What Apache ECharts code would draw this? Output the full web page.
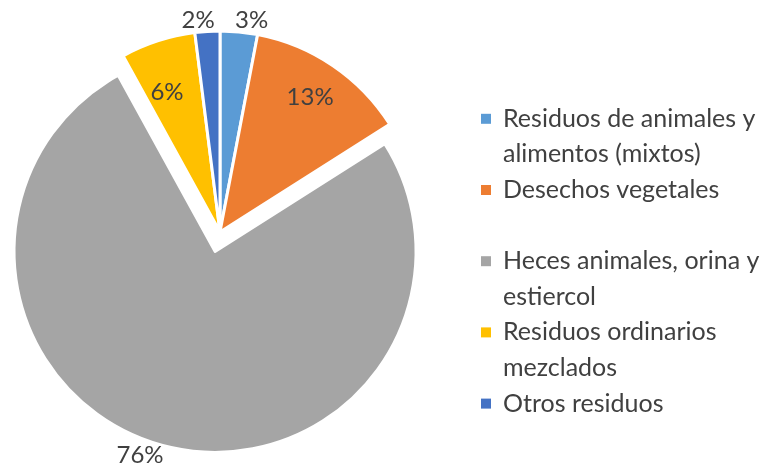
<!DOCTYPE html>
<html>
<head>
<meta charset="utf-8">
<script src="https://cdn.jsdelivr.net/npm/echarts@6/dist/echarts.min.js"></script>
<style>
  html, body { margin: 0; padding: 0; background: #fff; }
  #chart { width: 770px; height: 472px; }
</style>
</head>
<body>
<div id="chart"></div>
<script>
const categories = [
  'Residuos de animales y alimentos (mixtos)',
  'Desechos vegetales',
  'Heces animales, orina y estiercol',
  'Residuos ordinarios mezclados',
  'Otros residuos'
]
const values = [3, 13, 76, 6, 2]
// how the legend text wraps (the second item has an empty line under it)
const legendLines = [
  ['Residuos de animales y', 'alimentos (mixtos)'],
  ['Desechos vegetales', ' '],
  ['Heces animales, orina y', 'estiercol'],
  ['Residuos ordinarios', 'mezclados'],
  ['Otros residuos']
]
const colors = ['#5B9BD5', '#ED7D31', '#A5A5A5', '#FFC000', '#4472C4']
const exploded = [false, false, true, false, false]

// label line lengths, used only to push the percent labels where Excel put them
const labelLen = [12, -38, 10, -54, 11]
const labelLen2 = [-10, -30, -6, -14, -13]

const font = 'Lato, "Open Sans", sans-serif'
const textColor = '#404040'
const lh = 35.6

const chart = echarts.init(document.getElementById('chart'), null, { renderer: 'canvas' })

const rich = {
  t: { fontSize: 25, fontFamily: font, color: textColor, lineHeight: lh, padding: [0, 0, 0, 12] },
  u: { fontSize: 25, fontFamily: font, color: textColor, lineHeight: lh, padding: [0, 0, 0, 22] }
}
colors.forEach((c, i) => {
  rich['s' + i] = { width: 10, height: 10, backgroundColor: c, lineHeight: lh }
})

const option = {
  animation: false,
  backgroundColor: '#fff',
  legend: {
    orient: 'vertical',
    left: 475,
    top: 101,
    padding: 0,
    itemGap: 0,
    itemWidth: 0,
    itemHeight: 0,
    data: categories,
    formatter: (name) => {
      const i = categories.indexOf(name)
      const lines = legendLines[i]
      let s = '{s' + i + '|}{t|' + lines[0] + '}'
      for (let k = 1; k < lines.length; k++) s += '\n{u|' + lines[k] + '}'
      return s
    },
    textStyle: { fontSize: 25, fontFamily: font, color: textColor, lineHeight: lh, rich: rich }
  },
  series: [
    {
      type: 'pie',
      center: [220, 232],
      radius: 201,
      startAngle: 90,
      clockwise: true,
      selectedMode: 'single',
      selectedOffset: 20,
      avoidLabelOverlap: false,
      percentPrecision: 0,
      itemStyle: { borderColor: '#fff', borderWidth: 3 },
      emphasis: { disabled: true },
      label: {
        show: true,
        position: 'outside',
        formatter: '{d}%',
        fontSize: 24,
        fontFamily: font,
        color: textColor,
        distanceToLabelLine: 5
      },
      labelLine: { show: false },
      data: categories.map((name, i) => ({
        name: name,
        value: values[i],
        selected: exploded[i],
        itemStyle: { color: colors[i] },
        labelLine: { show: false, length: labelLen[i], length2: labelLen2[i] }
      }))
    }
  ]
}

chart.setOption(option)
</script>
</body>
</html>
